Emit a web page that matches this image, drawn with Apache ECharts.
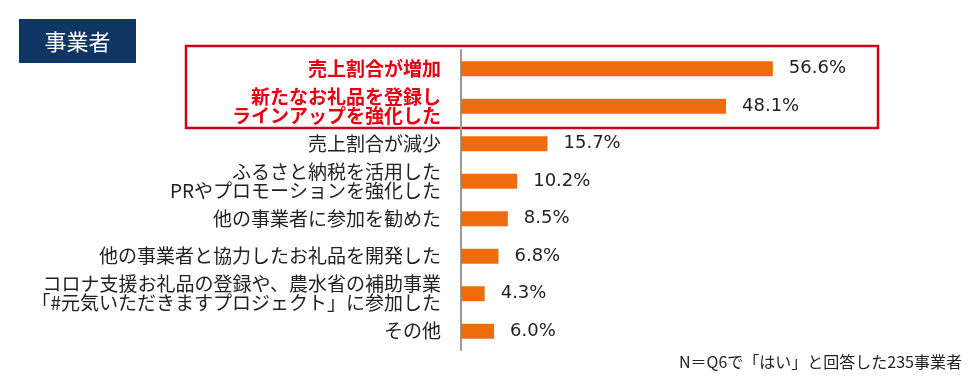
<!DOCTYPE html>
<html><head><meta charset="utf-8">
<script src="https://cdn.jsdelivr.net/npm/echarts@6/dist/echarts.min.js"></script>
<style>html,body{margin:0;padding:0;background:#fff}#c{width:980px;height:385px}</style>
</head><body><div id="c"></div>
<script>
const categories = [
  '売上割合が増加',
  '新たなお礼品を登録し\nラインアップを強化した',
  '売上割合が減少',
  'ふるさと納税を活用した\nPRやプロモーションを強化した',
  '他の事業者に参加を勧めた',
  '他の事業者と協力したお礼品を開発した',
  'コロナ支援お礼品の登録や、農水省の補助事業\n「#元気いただきますプロジェクト」に参加した',
  'その他'
];
const values = [56.6, 48.1, 15.7, 10.2, 8.5, 6.8, 4.3, 6.0];
const highlighted = [0, 1];
const titleText = '事業者';
const noteText = 'N＝Q6で「はい」と回答した235事業者';

const chart = echarts.init(document.getElementById('c'));
const cjk = '"Noto Sans CJK JP", sans-serif';
chart.setOption({
  animation: false,
  grid: { left: 461, top: 50, bottom: 35, width: 330.6, containLabel: false },
  xAxis: { type: 'value', min: 0, max: 60, show: false },
  yAxis: {
    type: 'category', inverse: true,
    data: categories.map((c, i) => highlighted.includes(i)
      ? { value: c, textStyle: { color: '#e60012', fontWeight: 'bold' } }
      : c),
    axisLine: { lineStyle: { color: '#9a9a9a', width: 2 } },
    axisTick: { show: false },
    axisLabel: { margin: 20, fontSize: 19, lineHeight: 19, color: '#222', fontFamily: cjk, align: 'right' }
  },
  series: [{
    type: 'bar', data: values, barWidth: 15,
    itemStyle: { color: '#ee6c0b' },
    label: {
      show: true, position: 'right', distance: 16,
      formatter: p => p.value.toFixed(1) + '%',
      fontFamily: 'Verdana, "DejaVu Sans", sans-serif', fontSize: 18, color: '#222'
    }
  }],
  graphic: [
    { type: 'rect', shape: { x: 19, y: 19, width: 117, height: 44 }, style: { fill: '#0f3564' } },
    { type: 'text', x: 77.5, y: 41.5, style: { text: titleText, fill: '#fff', font: '22px "Noto Sans CJK JP"', align: 'center', verticalAlign: 'middle' } },
    { type: 'rect', shape: { x: 186, y: 46, width: 692, height: 82 }, style: { fill: 'none', stroke: '#d0021b', lineWidth: 2.5 } },
    { type: 'text', x: 962, y: 362, style: { text: noteText, fill: '#222', font: '16px "Noto Sans CJK JP"', align: 'right', verticalAlign: 'middle' } }
  ]
});
</script></body></html>
